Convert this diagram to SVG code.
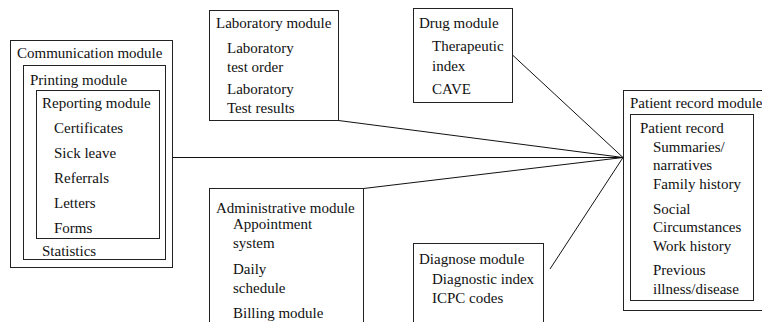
<svg xmlns="http://www.w3.org/2000/svg" width="762" height="322" viewBox="0 0 762 322">
  <style>
    .box { fill: none; stroke: #222; stroke-width: 1; }
    .conn { fill: none; stroke: #111; stroke-width: 1; }
    .lbl { font-family: 'Liberation Serif', 'Times New Roman', Times, serif; font-size: 15px; fill: #111; }
  </style>
  <rect width="762" height="322" fill="#fff"/>

  <!-- Connectors: every module links to the patient record -->
  <g id="connectors">
    <line class="conn" x1="172.5" y1="157.5" x2="623" y2="157.5"/>
    <line class="conn" x1="338.5" y1="120.5" x2="623" y2="157.5"/>
    <line class="conn" x1="512.5" y1="55" x2="623" y2="157.5"/>
    <line class="conn" x1="363.5" y1="188.5" x2="623" y2="157.5"/>
    <line class="conn" x1="550" y1="269" x2="623" y2="157.5"/>
  </g>

  <g class="lbl" font-family="Liberation Serif, serif">
  <g id="communication-module">
    <rect class="box" x="10.5" y="40.5" width="162" height="227"/>
    <text x="17" y="58">Communication module</text>
    <g id="printing-module">
      <rect class="box" x="23.5" y="65.5" width="142" height="194"/>
      <text x="30" y="85">Printing module</text>
      <g id="reporting-module">
        <rect class="box" x="36.5" y="90.5" width="123" height="148"/>
        <text x="42" y="108">Reporting module</text>
        <text x="54" y="133">Certificates</text>
        <text x="54" y="158">Sick leave</text>
        <text x="54" y="183">Referrals</text>
        <text x="54" y="208">Letters</text>
        <text x="54" y="233">Forms</text>
      </g>
      <text x="42" y="256">Statistics</text>
    </g>
  </g>

  <g id="laboratory-module">
    <rect class="box" x="209.5" y="10.5" width="129" height="110"/>
    <text x="216" y="28">Laboratory module</text>
    <text x="227" y="53">Laboratory</text>
    <text x="227" y="72">test order</text>
    <text x="227" y="94">Laboratory</text>
    <text x="227" y="113">Test results</text>
  </g>

  <g id="drug-module">
    <rect class="box" x="413.5" y="8.5" width="99" height="94"/>
    <text x="419" y="28">Drug module</text>
    <text x="432" y="51">Therapeutic</text>
    <text x="432" y="71">index</text>
    <text x="432" y="94">CAVE</text>
  </g>

  <g id="administrative-module">
    <rect class="box" x="209.5" y="188.5" width="154" height="150"/>
    <text x="216" y="213">Administrative module</text>
    <text x="233" y="229">Appointment</text>
    <text x="233" y="248">system</text>
    <text x="233" y="274">Daily</text>
    <text x="233" y="293">schedule</text>
    <text x="233" y="318">Billing module</text>
  </g>

  <g id="diagnose-module">
    <rect class="box" x="413.5" y="243.5" width="130" height="100"/>
    <text x="419" y="264">Diagnose module</text>
    <text x="432" y="284">Diagnostic index</text>
    <text x="432" y="303">ICPC codes</text>
  </g>

  <g id="patient-record-module">
    <rect class="box" x="623.5" y="90.5" width="150" height="220"/>
    <text x="630" y="108">Patient record module</text>
    <g id="patient-record">
      <rect class="box" x="630.5" y="114.5" width="123" height="186"/>
      <text x="640" y="133">Patient record</text>
      <text x="653" y="152">Summaries/</text>
      <text x="653" y="170">narratives</text>
      <text x="653" y="189">Family history</text>
      <text x="653" y="214">Social</text>
      <text x="653" y="232">Circumstances</text>
      <text x="653" y="251">Work history</text>
      <text x="653" y="275">Previous</text>
      <text x="653" y="294">illness/disease</text>
    </g>
  </g>
  </g>
</svg>
